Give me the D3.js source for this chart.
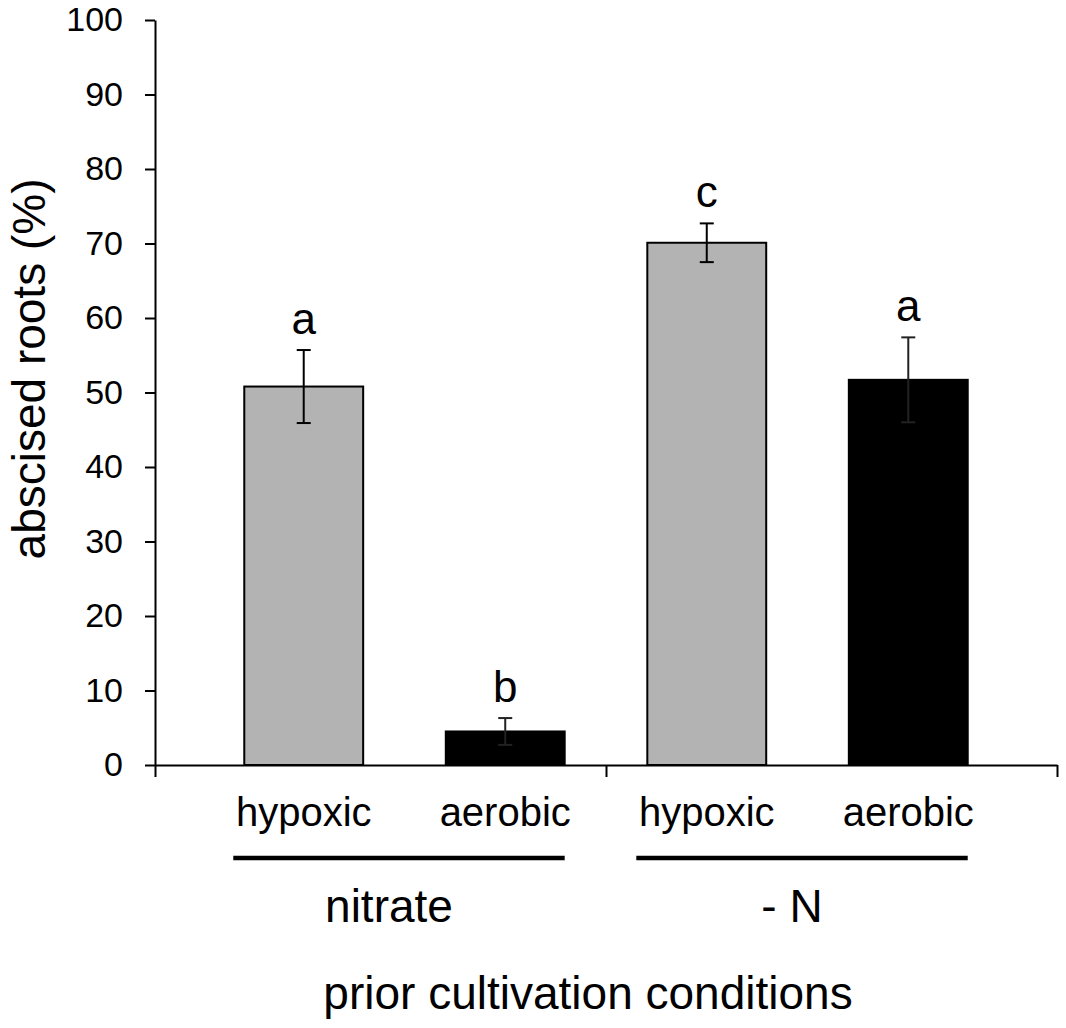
<!DOCTYPE html>
<html>
<head>
<meta charset="utf-8">
<script src="https://cdn.jsdelivr.net/npm/d3@7"></script>
<style>
body{margin:0;background:#fff;}
text{font-family:"Liberation Sans",Arial,sans-serif;fill:#000;}
</style>
</head>
<body>
<svg id="chart" width="1066" height="1028"></svg>
<script>
// values
var groups = ["nitrate", "- N"];
var conditions = ["hypoxic", "aerobic", "hypoxic", "aerobic"];
var groupOf = [0, 0, 1, 1];
var values = [50.8, 4.5, 70.1, 51.7];
var errors = [4.9, 1.8, 2.6, 5.7];
var letters = ["a", "b", "c", "a"];
var barColors = ["#b3b3b3", "#000000", "#b3b3b3", "#000000"];
var yTicks = [0, 10, 20, 30, 40, 50, 60, 70, 80, 90, 100];

var svg = d3.select("#chart");
var plotLeft = 155, plotRight = 1057, plotTop = 20, plotBottom = 765;

var y = d3.scaleLinear().domain([0, 100]).range([plotBottom, plotTop]);
var x = d3.scaleBand()
	.domain(d3.range(values.length))
	.range([plotLeft, plotRight])
	.paddingInner(0.41)
	.paddingOuter(0.443);
var xb = d3.scaleLinear().domain([0, groups.length]).range([plotLeft, plotRight]);

// y axis
var yAxis = svg.append("g")
	.attr("transform", "translate(" + plotLeft + ",0)")
	.call(d3.axisLeft(y).tickValues(yTicks).tickSize(10).tickSizeOuter(0).tickPadding(22));
yAxis.selectAll("path, line").attr("stroke", "#000").attr("stroke-width", 2);
yAxis.selectAll("text").style("font-size", "34px");
yAxis.attr("font-family", null);

// x axis with group dividers
var xAxis = svg.append("g")
	.attr("transform", "translate(0," + plotBottom + ")")
	.call(d3.axisBottom(xb).tickValues(d3.range(groups.length + 1)).tickFormat("").tickSize(12).tickSizeOuter(0));
xAxis.selectAll("path, line").attr("stroke", "#000").attr("stroke-width", 2);

// bars
svg.selectAll("rect.bar")
	.data(values)
	.enter().append("rect")
	.attr("class", "bar")
	.attr("x", function(d, i){ return x(i); })
	.attr("y", function(d){ return y(d); })
	.attr("width", x.bandwidth())
	.attr("height", function(d){ return y(0) - y(d); })
	.attr("fill", function(d, i){ return barColors[i]; })
	.attr("stroke", "#000")
	.attr("stroke-width", 2);

// error bars
var cap = 7;
var eb = svg.selectAll("g.err")
	.data(values)
	.enter().append("g")
	.attr("class", "err")
	.attr("stroke", function(d, i){ return i % 2 ? "#222" : "#000"; })
	.attr("stroke-width", 2);
eb.append("line")
	.attr("x1", function(d, i){ return x(i) + x.bandwidth() / 2; })
	.attr("x2", function(d, i){ return x(i) + x.bandwidth() / 2; })
	.attr("y1", function(d, i){ return y(d - errors[i]); })
	.attr("y2", function(d, i){ return y(d + errors[i]); });
eb.append("line")
	.attr("x1", function(d, i){ return x(i) + x.bandwidth() / 2 - cap; })
	.attr("x2", function(d, i){ return x(i) + x.bandwidth() / 2 + cap; })
	.attr("y1", function(d, i){ return y(d + errors[i]); })
	.attr("y2", function(d, i){ return y(d + errors[i]); });
eb.append("line")
	.attr("x1", function(d, i){ return x(i) + x.bandwidth() / 2 - cap; })
	.attr("x2", function(d, i){ return x(i) + x.bandwidth() / 2 + cap; })
	.attr("y1", function(d, i){ return y(d - errors[i]); })
	.attr("y2", function(d, i){ return y(d - errors[i]); });

// significance letters
svg.selectAll("text.sig")
	.data(letters)
	.enter().append("text")
	.attr("class", "sig")
	.attr("x", function(d, i){ return x(i) + x.bandwidth() / 2; })
	.attr("y", function(d, i){ return y(values[i] + errors[i]) - 16; })
	.attr("text-anchor", "middle")
	.style("font-size", "44px")
	.text(function(d){ return d; });

// condition labels
svg.selectAll("text.cond")
	.data(conditions)
	.enter().append("text")
	.attr("class", "cond")
	.attr("x", function(d, i){ return x(i) + x.bandwidth() / 2; })
	.attr("y", 826)
	.attr("text-anchor", "middle")
	.style("font-size", "40px")
	.text(function(d){ return d; });

// group underline + label
groups.forEach(function(g, gi){
	var idx = [];
	for(var i = 0; i < groupOf.length; i++){
		if(groupOf[i] == gi) idx.push(i);
	}
	var x1 = x(idx[0]) - 11;
	var x2 = x(idx[idx.length - 1]) + x.bandwidth();
	svg.append("line")
		.attr("x1", x1).attr("x2", x2)
		.attr("y1", 858).attr("y2", 858)
		.attr("stroke", "#000")
		.attr("stroke-width", 4.5);
	svg.append("text")
		.attr("x", (x1 + x2) / 2 - 10)
		.attr("y", 922)
		.attr("text-anchor", "middle")
		.style("font-size", "46px")
		.text(g);
});

// axis titles
svg.append("text")
	.attr("transform", "rotate(-90)")
	.attr("x", -369)
	.attr("y", 45)
	.attr("text-anchor", "middle")
	.style("font-size", "46px")
	.text("abscised roots (%)");

svg.append("text")
	.attr("x", 588)
	.attr("y", 1009)
	.attr("text-anchor", "middle")
	.style("font-size", "46px")
	.text("prior cultivation conditions");
</script>
</body>
</html>
